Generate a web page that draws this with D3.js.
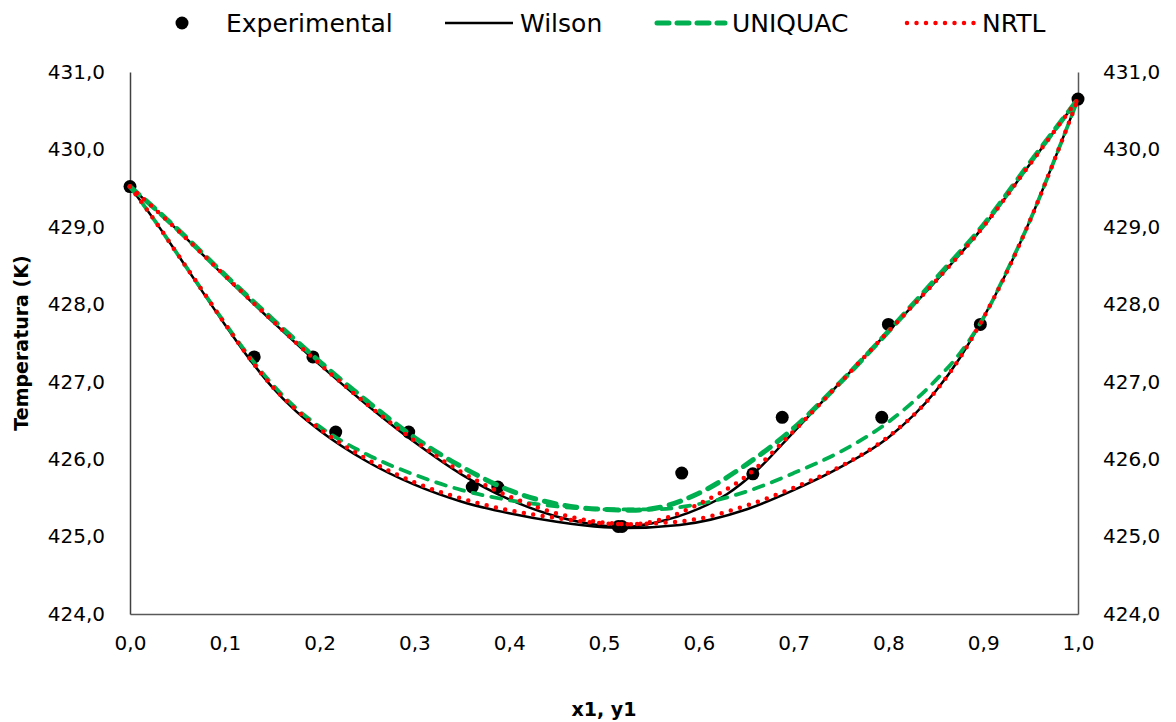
<!DOCTYPE html>
<html>
<head>
<meta charset="utf-8">
<script src="https://cdn.jsdelivr.net/npm/d3@7"></script>
<style>
    body { margin: 0; background: #fff; }
    text { font-family: "DejaVu Sans", sans-serif; fill: #000; }
</style>
</head>
<body>
<div id="chart"></div>
<script>
// experimental points (x1 / y1 , temperature)
const expX = [0, 0.131, 0.193, 0.217, 0.294, 0.361, 0.388, 0.515, 0.519, 0.582, 0.657, 0.688, 0.793, 0.800, 0.897, 1.0];
const expT = [429.52, 427.32, 427.32, 426.35, 426.35, 425.64, 425.64, 425.13, 425.13, 425.82, 425.81, 426.54, 426.54, 427.74, 427.74, 430.65];

// Wilson
const wilsonDewX = [0, 0.05, 0.1, 0.15, 0.2, 0.25, 0.3, 0.35, 0.4, 0.45, 0.5, 0.52, 0.55, 0.6, 0.63, 0.66, 0.7, 0.75, 0.8, 0.85, 0.9, 0.95, 1.0];
const wilsonDewT = [429.52, 428.96, 428.36, 427.78, 427.22, 426.70, 426.22, 425.80, 425.48, 425.26, 425.14, 425.12, 425.17, 425.36, 425.55, 425.84, 426.35, 427.00, 427.65, 428.30, 429.00, 429.82, 430.65];
const wilsonBubX = [0, 0.025, 0.05, 0.075, 0.1, 0.125, 0.15, 0.175, 0.2, 0.25, 0.3, 0.35, 0.4, 0.45, 0.5, 0.52, 0.58, 0.65, 0.7, 0.75, 0.8, 0.85, 0.875, 0.9, 0.925, 0.95, 0.975, 1.0];
const wilsonBubT = [429.52, 429.10, 428.65, 428.19, 427.74, 427.31, 426.93, 426.62, 426.37, 425.97, 425.67, 425.45, 425.30, 425.19, 425.12, 425.11, 425.15, 425.35, 425.60, 425.90, 426.28, 426.88, 427.30, 427.82, 428.42, 429.10, 429.86, 430.65];

// UNIQUAC
const uniquacDewX = [0, 0.05, 0.1, 0.15, 0.2, 0.25, 0.3, 0.35, 0.4, 0.45, 0.5, 0.53, 0.56, 0.6, 0.65, 0.7, 0.75, 0.8, 0.85, 0.9, 0.95, 1.0];
const uniquacDewT = [429.52, 428.97, 428.38, 427.81, 427.26, 426.75, 426.28, 425.90, 425.60, 425.42, 425.35, 425.34, 425.38, 425.56, 425.93, 426.40, 427.00, 427.65, 428.33, 429.02, 429.84, 430.65];
const uniquacBubX = [0, 0.025, 0.05, 0.075, 0.1, 0.125, 0.15, 0.175, 0.2, 0.25, 0.3, 0.35, 0.4, 0.45, 0.5, 0.55, 0.6, 0.65, 0.7, 0.75, 0.8, 0.85, 0.875, 0.9, 0.925, 0.95, 0.975, 1.0];
const uniquacBubT = [429.52, 429.10, 428.65, 428.20, 427.76, 427.34, 426.97, 426.66, 426.42, 426.06, 425.80, 425.60, 425.47, 425.39, 425.35, 425.35, 425.42, 425.58, 425.82, 426.10, 426.48, 427.02, 427.36, 427.82, 428.43, 429.10, 429.86, 430.65];

// NRTL
const nrtlDewX = [0, 0.05, 0.1, 0.15, 0.2, 0.25, 0.3, 0.35, 0.4, 0.45, 0.5, 0.53, 0.56, 0.6, 0.65, 0.7, 0.75, 0.8, 0.85, 0.9, 0.95, 1.0];
const nrtlDewT = [429.52, 428.96, 428.37, 427.79, 427.23, 426.71, 426.24, 425.83, 425.52, 425.30, 425.18, 425.16, 425.22, 425.42, 425.78, 426.36, 427.00, 427.65, 428.30, 429.00, 429.82, 430.65];
const nrtlBubX = [0, 0.025, 0.05, 0.075, 0.1, 0.125, 0.15, 0.175, 0.2, 0.25, 0.3, 0.35, 0.4, 0.45, 0.5, 0.52, 0.55, 0.6, 0.65, 0.7, 0.75, 0.8, 0.85, 0.875, 0.9, 0.925, 0.95, 0.975, 1.0];
const nrtlBubT = [429.52, 429.10, 428.65, 428.20, 427.75, 427.32, 426.94, 426.64, 426.39, 426.00, 425.70, 425.49, 425.34, 425.24, 425.17, 425.16, 425.17, 425.23, 425.40, 425.63, 425.91, 426.29, 426.88, 427.30, 427.82, 428.42, 429.10, 429.86, 430.65];

const xTicks = [0, 0.1, 0.2, 0.3, 0.4, 0.5, 0.6, 0.7, 0.8, 0.9, 1.0];
const yTicks = [424, 425, 426, 427, 428, 429, 430, 431];

const width = 1176;
const height = 722;
const margins = { top: 72, right: 98, bottom: 108, left: 130 };

const fmt = v => d3.format(".1f")(v).replace(".", ",");
const zip = (xs, ts) => xs.map((v, i) => ({ x: v, t: ts[i] }));

const svg = d3.select("#chart")
    .append("svg")
    .attr("width", width)
    .attr("height", height);

const x = d3.scaleLinear()
    .domain([0, 1])
    .range([margins.left, width - margins.right]);
const y = d3.scaleLinear()
    .domain([424, 431])
    .range([height - margins.bottom, margins.top]);

/** axes */
const gx = svg.append("g")
    .attr("transform", `translate(0,${y(424)})`)
    .call(d3.axisBottom(x).tickValues(xTicks).tickFormat(fmt).tickSize(0).tickPadding(22))
    .call(g => g.select(".domain").attr("stroke", "#595959").attr("stroke-width", 1.5));
gx.selectAll("text").attr("font-size", 20).attr("font-family", "DejaVu Sans");

const gyl = svg.append("g")
    .attr("transform", `translate(${x(0)},0)`)
    .call(d3.axisLeft(y).tickValues(yTicks).tickFormat(fmt).tickSize(0).tickPadding(25))
    .call(g => g.select(".domain").attr("stroke", "#404040").attr("stroke-width", 1.5));
gyl.selectAll("text").attr("font-size", 20).attr("font-family", "DejaVu Sans");

const gyr = svg.append("g")
    .attr("transform", `translate(${x(1)},0)`)
    .call(d3.axisRight(y).tickValues(yTicks).tickFormat(fmt).tickSize(0).tickPadding(25))
    .call(g => g.select(".domain").attr("stroke", "#595959").attr("stroke-width", 1.5));
gyr.selectAll("text").attr("font-size", 20).attr("font-family", "DejaVu Sans");

svg.append("text")
    .attr("transform", `translate(28,${(y(424) + y(431)) / 2}) rotate(-90)`)
    .attr("text-anchor", "middle")
    .attr("font-size", 19)
    .attr("font-weight", "bold")
    .text("Temperatura (K)");

svg.append("text")
    .attr("x", (x(0) + x(1)) / 2)
    .attr("y", 716)
    .attr("text-anchor", "middle")
    .attr("font-size", 19)
    .attr("font-weight", "bold")
    .text("x1, y1");

/** marks */
svg.append("g")
    .selectAll("circle")
    .data(zip(expX, expT))
    .join("circle")
    .attr("cx", d => x(d.x))
    .attr("cy", d => y(d.t))
    .attr("r", 6.5)
    .attr("fill", "#000");

const line = d3.line()
    .x(d => x(d.x))
    .y(d => y(d.t))
    .curve(d3.curveMonotoneX);

const series = [
    { data: zip(wilsonDewX, wilsonDewT), stroke: "#000", width: 2.5, dash: null, cap: "butt" },
    { data: zip(wilsonBubX, wilsonBubT), stroke: "#000", width: 2.5, dash: null, cap: "butt" },
    { data: zip(uniquacDewX, uniquacDewT), stroke: "#00b050", width: 5, dash: "12 9", cap: "round" },
    { data: zip(uniquacBubX, uniquacBubT), stroke: "#00b050", width: 3.8, dash: "10 9", cap: "round" },
    { data: zip(nrtlDewX, nrtlDewT), stroke: "#ff0000", width: 4.5, dash: "0 9.5", cap: "round" },
    { data: zip(nrtlBubX, nrtlBubT), stroke: "#ff0000", width: 4.5, dash: "0 9.5", cap: "round" }
];

svg.append("g")
    .selectAll("path")
    .data(series)
    .join("path")
    .attr("d", d => line(d.data))
    .attr("fill", "none")
    .attr("stroke", d => d.stroke)
    .attr("stroke-width", d => d.width)
    .attr("stroke-dasharray", d => d.dash)
    .attr("stroke-linecap", d => d.cap);

/** legend */
const legendY = 23;
const legend = svg.append("g").attr("font-size", 25);

legend.append("circle").attr("cx", 182).attr("cy", legendY).attr("r", 6.5).attr("fill", "#000");
legend.append("text").attr("x", 226).attr("y", legendY).attr("dy", "0.35em").text("Experimental");

const legendItems = [
    { label: "Wilson", x0: 445, stroke: "#000", width: 2.5, dash: null, cap: "butt" },
    { label: "UNIQUAC", x0: 657, stroke: "#00b050", width: 5, dash: "12 8", cap: "round" },
    { label: "NRTL", x0: 907, stroke: "#ff0000", width: 4.5, dash: "0 9.5", cap: "round" }
];

legendItems.forEach(item => {
    legend.append("line")
        .attr("x1", item.x0)
        .attr("x2", item.x0 + 68)
        .attr("y1", legendY)
        .attr("y2", legendY)
        .attr("stroke", item.stroke)
        .attr("stroke-width", item.width)
        .attr("stroke-dasharray", item.dash)
        .attr("stroke-linecap", item.cap);
    legend.append("text")
        .attr("x", item.x0 + 75)
        .attr("y", legendY)
        .attr("dy", "0.35em")
        .text(item.label);
});
</script>
</body>
</html>
